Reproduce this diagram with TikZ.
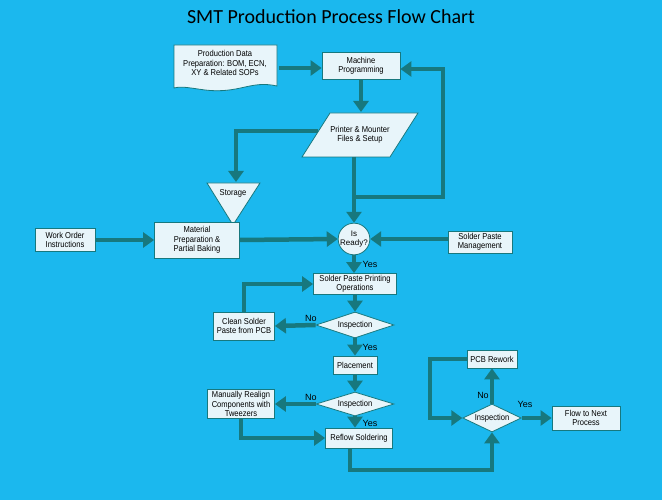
\documentclass[tikz,border=0pt]{standalone}
\usepackage{fontspec}
\setmainfont{Liberation Sans}
\newfontfamily\titlefont{Carlito}
\usetikzlibrary{arrows.meta,shapes.geometric}
\definecolor{bgc}{HTML}{1BB8EE}
\definecolor{arc}{HTML}{17787E}
\definecolor{boxc}{HTML}{E8F5FA}
\begin{document}
\begin{tikzpicture}[x=1pt,y=-1pt,
  txt/.style={font=\fontsize{8.6}{9.4}\selectfont\addfontfeature{FakeStretch=0.88}},
  box/.style={draw=arc,line width=0.8pt,fill=boxc,inner sep=1pt,align=center,txt,rectangle},
  dia/.style={draw=arc,line width=0.8pt,fill=boxc,diamond,aspect=3,inner sep=0pt,txt},
  lab/.style={font=\fontsize{9}{10}\selectfont,text=black},
  fl/.style={draw=arc,line width=4.5pt},
  ar/.style={fl,-{Triangle[length=11pt,width=15pt]}}]
\fill[bgc] (0,0) rectangle (662,500);
\useasboundingbox (0,0) rectangle (662,500);
\node (title) at (331,17) {\titlefont\fontsize{20}{22}\selectfont SMT Production Process Flow Chart};
% document shape
\draw[draw=arc,line width=0.8pt,fill=boxc] (174,45) -- (277,45) -- (277,86) .. controls (250,80) and (240,94) .. (205,90) .. controls (190,88) and (182,86) .. (174,88) -- cycle;
\node[align=center,txt] (doc) at (225,63) {Production Data\\Preparation: BOM, ECN,\\XY \& Related SOPs};
\node[box,minimum width=78pt,minimum height=27pt] (mp) at (361,66) {Machine\\Programming};
\draw[draw=arc,line width=0.8pt,fill=boxc] (330,113) -- (418,113) -- (390,157) -- (302,157) -- cycle;
\node[align=center,txt] (pr) at (360,135) {Printer \& Mounter\\Files \& Setup};
\draw[draw=arc,line width=0.8pt,fill=boxc] (207,183) -- (260,183) -- (233,225) -- cycle;
\node[txt] (st) at (233,193) {Storage};
\node[box,circle,minimum size=26pt,inner sep=0pt,font=\fontsize{8}{8.6}\selectfont] (rd) at (354,239) {Is\\Ready?};
\node[box,minimum width=60pt,minimum height=23pt] (wo) at (65,240) {Work Order\\Instructions};
\node[box,minimum width=85pt,minimum height=36pt] (mat) at (197,240) {Material\\Preparation \&\\Partial Baking};
\node[box,minimum width=64pt,minimum height=22pt] (spm) at (480,242) {Solder Paste\\Management};
\node[box,minimum width=83pt,minimum height=21pt] (spp) at (355,284) {Solder Paste Printing\\Operations};
\node[dia,minimum width=78pt,minimum height=26pt] (i1) at (355,325) {Inspection};
\node[box,minimum width=61pt,minimum height=28pt] (cl) at (244,326) {Clean Solder\\Paste from PCB};
\node[box,minimum width=44pt,minimum height=18pt] (pl) at (355,365) {Placement};
\node[dia,minimum width=78pt,minimum height=24pt] (i2) at (355,404) {Inspection};
\node[box,minimum width=67pt,minimum height=29pt] (mr) at (241,404) {Manually Realign\\Components with\\Tweezers};
\node[box,minimum width=67pt,minimum height=20pt] (rf) at (359,438) {Reflow Soldering};
\node[dia,minimum width=48pt,minimum height=28pt] (i3) at (492,418) {Inspection};
\node[box,minimum width=50pt,minimum height=18pt] (rw) at (492,359) {PCB Rework};
\node[box,minimum width=68pt,minimum height=24pt] (nx) at (586,418) {Flow to Next\\Process};
\coordinate (j1) at (354,197);
% connectors
\draw[ar] (279,68) -- (mp.west |- 0,68);
\draw[ar] (mp.south) -- (361,112);
\draw[ar] (318,131) -| (236,182);
\draw[fl] (354,157) -- (j1);
\draw[ar] (j1) -- (rd.north);
\draw[ar] (j1) -- (443,197) -- (443,69) -- (mp.east |- 0,69);
\draw[ar] (wo.east) -- (mat.west);
\draw[ar] (mat.east) -- (rd.west);
\draw[ar] (spm.west |- rd) -- (rd.east);
\draw[ar] (rd.south) -- (rd.south |- spp.north);
\draw[ar] (spp.south) -- (i1.north);
\draw[ar] (i1.west) -- (cl.east);
\draw[ar] (cl.north) |- (spp.west);
\draw[ar] (i1.south) -- (pl.north);
\draw[ar] (pl.south) -- (i2.north);
\draw[ar] (i2.west) -- (mr.east);
\draw[ar] (mr.south) |- (rf.west);
\draw[ar] (i2.south) -- (rf.north -| i2.south);
\draw[ar] (rf.south -| 350,0) |- (492,470) -- (i3.south);
\draw[ar] (i3.north) -- (rw.south);
\draw[ar] (rw.west) -| (430,418) -- (i3.west);
\draw[ar] (i3.east) -- (nx.west);
% labels
\node[lab] (y1) at (370,264) {Yes};
\node[lab] (n1) at (311,318) {No};
\node[lab] (y2) at (370,347) {Yes};
\node[lab] (n2) at (311,397) {No};
\node[lab] (y3) at (370,423) {Yes};
\node[lab] (n3) at (483,395) {No};
\node[lab] (y4) at (525,404) {Yes};
\end{tikzpicture}
\end{document}
